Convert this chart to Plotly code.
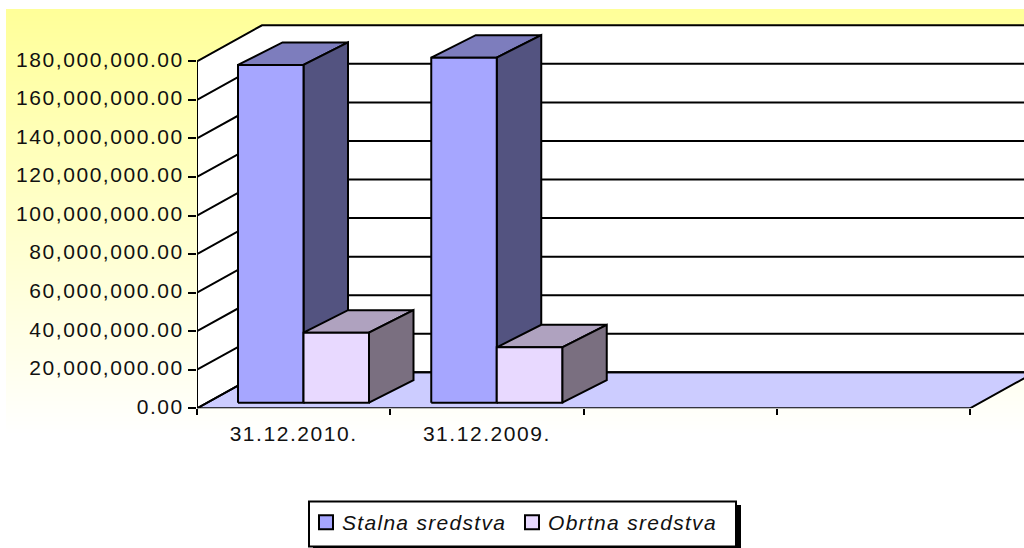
import plotly.graph_objects as go

# ---- data -------------------------------------------------------------
categories = ["31.12.2010.", "31.12.2009."]
slots = 4
stalna = [175.2e6, 179.0e6]
obrtna = [36.3e6, 28.7e6]
y_ticks = [0, 20e6, 40e6, 60e6, 80e6, 100e6, 120e6, 140e6, 160e6, 180e6]
y_labels = ["0.00", "20,000,000.00", "40,000,000.00", "60,000,000.00", "80,000,000.00",
            "100,000,000.00", "120,000,000.00", "140,000,000.00", "160,000,000.00", "180,000,000.00"]

# ---- oblique projection, in axis units --------------------------------
W, H = 1024, 548
PX_X = 193.25            # px per category slot
PX_Y = 347.0 / 180e6     # px per value unit
X0, Y0 = 197.0, 408.3    # pixel of the axis origin
WALL_DX, WALL_DY = 65 / PX_X, 36 / PX_Y
BAR_DX, BAR_DY = 44.5 / PX_X, 22.5 / PX_Y
BAR_BASE = 5.6 / PX_Y
BAR_LEFT, BAR_W = 41 / PX_X, 65.5 / PX_X

C_LINE = "#000000"
FONT = "Liberation Sans, Arial, sans-serif"
skip = dict(hoverinfo="skip", showlegend=False)

fig = go.Figure()

def poly(xs, ys, fill, line=True, name=None):
    fig.add_trace(go.Scatter(
        x=xs + xs[:1], y=ys + ys[:1], mode="lines", fill="toself", fillcolor=fill,
        line=dict(color=C_LINE, width=2 if line else 0), cliponaxis=False, name=name, **skip))

# background gradient: yellow at the top fading to white, as thin paper strips
GRAD_TOP, GRAD_BOTTOM, STRIP = 9, 435, 4
shapes = []
for py in range(GRAD_TOP, GRAD_BOTTOM, STRIP):
    t = (py - GRAD_TOP) / (GRAD_BOTTOM - GRAD_TOP)
    blue = round(0x99 + (0xFF - 0x99) * t)
    shapes.append(dict(type="rect", xref="paper", yref="paper", x0=6 / W, x1=1,
                       y0=1 - (py + STRIP) / H, y1=1 - py / H, layer="below",
                       fillcolor=f"rgb(255,255,{blue})", line=dict(width=0)))

# walls and floor
top = y_ticks[-1]
poly([0, WALL_DX, WALL_DX, 0], [0, WALL_DY, top + WALL_DY, top], "#FFFFFF", line=False)
poly([WALL_DX, slots + WALL_DX, slots + WALL_DX, WALL_DX],
     [WALL_DY, WALL_DY, top + WALL_DY, top + WALL_DY], "#FFFFFF", line=False)
poly([0, slots, slots + WALL_DX, WALL_DX], [0, 0, WALL_DY, WALL_DY], "#CCCCFF")

# gridlines on the walls
gx, gy = [0, 0, None], [0, top, None]
for t in y_ticks:
    gx += [0, WALL_DX, slots + WALL_DX, None]
    gy += [t, t + WALL_DY, t + WALL_DY, None]
fig.add_trace(go.Scatter(x=gx, y=gy, mode="lines", line=dict(color=C_LINE, width=2),
                         cliponaxis=False, **skip))

def bar3d(x, w, v, front, topc, side):
    y0, y1 = BAR_BASE, BAR_BASE + v
    poly([x, x + BAR_DX, x + w + BAR_DX, x + w], [y1, y1 + BAR_DY, y1 + BAR_DY, y1], topc)
    poly([x + w, x + w + BAR_DX, x + w + BAR_DX, x + w], [y0, y0 + BAR_DY, y1 + BAR_DY, y1], side)
    poly([x, x + w, x + w, x], [y0, y0, y1, y1], front)

for i in range(len(categories)):
    bar3d(i + BAR_LEFT, BAR_W, stalna[i], "#A6A6FF", "#7D7DBD", "#535380")
    bar3d(i + BAR_LEFT + BAR_W, BAR_W, obrtna[i], "#E8D9FF", "#AFA2BF", "#7A6F80")

# legend entries
for nm, col in (("Stalna sredstva", "#A6A6FF"), ("Obrtna sredstva", "#E8D9FF")):
    fig.add_trace(go.Scatter(x=[None], y=[None], mode="markers", name=nm,
                             marker=dict(symbol="square", size=14, color=col,
                                         line=dict(color=C_LINE, width=2))))

shapes += [
    dict(type="rect", xref="paper", yref="paper", x0=313 / W, x1=741 / W, y0=1 - 505 / H, y1=0,
         fillcolor="#000000", line=dict(width=0), layer="above"),
    dict(type="rect", xref="paper", yref="paper", x0=309 / W, x1=736 / W, y0=1 - 501.5 / H, y1=1 - 546.5 / H,
         fillcolor="#FFFFFF", line=dict(color="#000000", width=2), layer="above"),
]

fig.update_layout(
    width=W, height=H, margin=dict(l=0, r=0, t=0, b=0, autoexpand=False),
    paper_bgcolor="#FFFFFF", plot_bgcolor="rgba(0,0,0,0)",
    font=dict(family=FONT, size=21, color="#111111"),
    xaxis=dict(domain=[X0 / W, 1], range=[0, (W - X0) / PX_X], showgrid=False, zeroline=False,
               showline=False, tickmode="array", tickvals=[i + 0.5 for i in range(len(categories))],
               ticktext=categories, ticks="", ticklabelstandoff=11,
               tickfont=dict(family=FONT, size=21, color="#111111"),
               minor=dict(tickmode="array", tickvals=list(range(slots + 1)), ticks="outside",
                          ticklen=6, tickwidth=2, tickcolor=C_LINE, showgrid=False)),
    yaxis=dict(domain=[(H - Y0) / H, (H - 20) / H], range=[0, (Y0 - 20) / PX_Y], showgrid=False,
               zeroline=False, showline=False, tickmode="array", tickvals=y_ticks, ticktext=y_labels,
               ticks="outside", ticklen=8, tickwidth=2, tickcolor=C_LINE,
               tickfont=dict(family=FONT, size=21, color="#111111")),
    legend=dict(orientation="h", x=306 / W, y=1 - 543 / H,
                xanchor="left", yanchor="bottom",
                bgcolor="rgba(0,0,0,0)", borderwidth=0, entrywidth=161, entrywidthmode="pixels",
                font=dict(family=FONT, size=21, style="italic", color="#111111")),
    shapes=shapes,
)

post = """
document.body.style.margin='0';
document.querySelectorAll('.xtick text,.ytick text').forEach(function(e){e.style.letterSpacing='1.55px';});
document.querySelectorAll('.ytick text').forEach(function(e){e.setAttribute('dy','-2');});
document.querySelectorAll('.legendtext').forEach(function(e){
  e.style.letterSpacing='1.3px';
  e.setAttribute('x', parseFloat(e.getAttribute('x')) - 4);
});
"""
fig.write_html("out.html", post_script=post, config={"displayModeBar": False})
